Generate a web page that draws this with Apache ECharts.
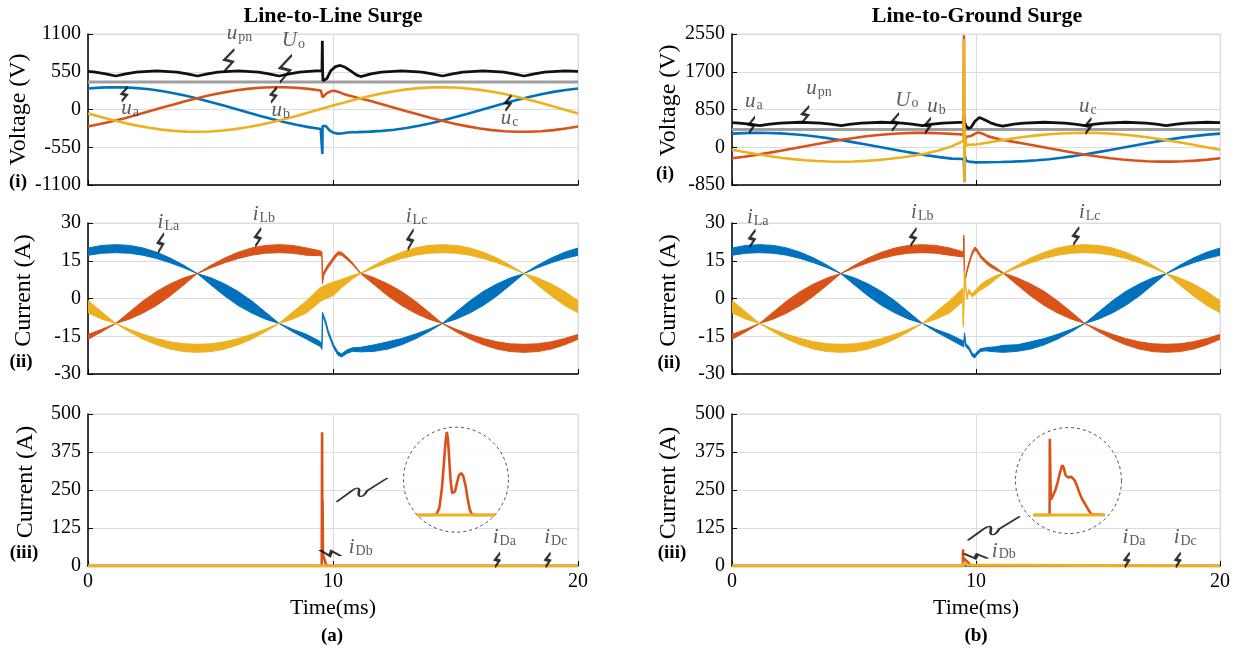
<!DOCTYPE html>
<html>
<head>
<meta charset="utf-8">
<script src="https://cdn.jsdelivr.net/npm/echarts@6/dist/echarts.min.js"></script>
<style>
html,body{margin:0;padding:0;background:#fff}
#chart{width:1244px;height:649px}
</style>
</head>
<body>
<div id="chart"></div>
<script>
// ---------- time bases (ms) ----------
const tHalf = [0,0.5,1,1.5,2,2.5,3,3.5,4,4.5,5,5.5,6,6.5,7,7.5,8,8.5,9,9.5,10,10.5,11,11.5,12,12.5,13,13.5,14,14.5,15,15.5,16,16.5,17,17.5,18,18.5,19,19.5,20];
const tSpan = [0, 20];
const zeroSpan = [0, 0];

// ---------- (a) line-to-line surge: voltages (V) ----------
const tUaL = [0,0.5,1,1.5,2,2.5,3,3.5,4,4.5,5,5.5,6,6.5,7,7.5,8,8.5,9,9.5,9.55,9.565,9.575,9.6,9.7,9.85,10,10.2,10.4,10.6,10.8,11,11.5,12,12.5,13,13.5,14,14.5,15,15.5,16,16.5,17,17.5,18,18.5,19,19.5,20];
const uaL = [306,319,325,322,312,294,269,237,199,157,110,61,10,-41,-91,-138,-183,-223,-257,-285,-288,-650,-240,-215,-240,-300,-335,-352,-345,-336,-332,-330,-323,-312,-294,-269,-237,-199,-157,-110,-61,-10,41,91,138,183,223,257,285,306];
const tUbL = [0,0.5,1,1.5,2,2.5,3,3.5,4,4.5,5,5.5,6,6.5,7,7.5,8,8.5,9,9.5,9.55,9.565,9.575,9.62,9.75,9.9,10.05,10.3,10.5,11,11.5,12,12.5,13,13.5,14,14.5,15,15.5,16,16.5,17,17.5,18,18.5,19,19.5,20];
const ubL = [-248,-212,-171,-126,-78,-27,24,74,123,168,210,246,276,300,316,324,324,316,301,278,274,270,178,198,238,265,272,246,218,171,126,78,27,-24,-74,-123,-168,-210,-246,-276,-300,-316,-324,-324,-316,-301,-278,-248];
const ucL = [-58,-107,-154,-197,-235,-267,-293,-311,-322,-325,-320,-307,-286,-259,-225,-186,-141,-94,-44,7,58,107,154,197,235,267,293,311,322,325,320,307,286,259,225,186,141,94,44,-7,-58];
const tUpnL = [0,0.3,0.72,1.13,1.55,1.97,2.8,3.63,4.05,4.47,4.88,5.3,6.13,6.97,7.38,7.8,8.22,8.63,9.3,9.55,9.565,9.575,9.59,9.65,9.75,9.9,10.1,10.3,10.5,10.75,10.95,11.13,11.55,11.97,12.8,13.63,14.05,14.47,14.88,15.3,16.13,16.97,17.38,17.8,18.22,18.63,19.47,20];
const upnL = [555,544,520,488,520,544,563,544,520,488,520,544,563,544,520,488,520,544,562,566,1000,560,420,400,450,560,625,642,615,555,505,480,520,544,563,544,520,488,520,544,563,544,520,488,520,544,563,555];
const uoL = [400, 400];

// ---------- (b) line-to-ground surge: voltages (V) ----------
const tUaR = [0,0.5,1,1.5,2,2.5,3,3.5,4,4.5,5,5.5,6,6.5,7,7.5,8,8.5,9,9.5,9.51,9.525,9.54,9.6,9.8,10,10.5,11,11.5,12,12.5,13,13.5,14,14.5,15,15.5,16,16.5,17,17.5,18,18.5,19,19.5,20];
const uaR = [306,319,325,322,312,294,269,237,199,157,110,61,10,-41,-91,-138,-183,-223,-257,-265,-300,-790,-180,-310,-330,-340,-338,-332,-324,-312,-294,-269,-237,-199,-157,-110,-61,-10,41,91,138,183,223,257,285,306];
const tUbR = [0,0.5,1,1.5,2,2.5,3,3.5,4,4.5,5,5.5,6,6.5,7,7.5,8,8.5,9,9.3,9.49,9.505,9.515,9.525,9.54,9.6,9.8,9.95,10.1,10.3,10.5,11,11.5,12,12.5,13,13.5,14,14.5,15,15.5,16,16.5,17,17.5,18,18.5,19,19.5,20];
const ubR = [-248,-212,-171,-126,-78,-27,24,74,123,168,210,246,276,300,316,324,324,316,301,292,285,2520,900,-700,120,235,255,300,335,300,245,175,126,78,27,-24,-74,-123,-168,-210,-246,-276,-300,-316,-324,-324,-316,-301,-278,-248];
const tUcR = [0,0.5,1,1.5,2,2.5,3,3.5,4,4.5,5,5.5,6,6.5,7,7.5,8,8.5,9,9.3,9.49,9.51,9.525,9.54,9.6,9.7,9.9,10,10.5,11,11.5,12,12.5,13,13.5,14,14.5,15,15.5,16,16.5,17,17.5,18,18.5,19,19.5,20];
const ucR = [-58,-107,-154,-197,-235,-267,-293,-311,-322,-325,-320,-307,-286,-259,-225,-186,-135,-70,20,95,150,2440,-780,260,40,55,58,62,107,154,197,235,267,293,311,322,325,320,307,286,259,225,186,141,94,44,-7,-58];
const tUpnR = [0,0.3,0.72,1.13,1.55,1.97,2.8,3.63,4.05,4.47,4.88,5.3,6.13,6.97,7.38,7.8,8.22,8.63,9.3,9.49,9.51,9.53,9.6,9.7,9.8,9.95,10.14,10.35,10.6,10.85,11.1,11.55,11.97,12.8,13.63,14.05,14.47,14.88,15.3,16.13,16.97,17.38,17.8,18.22,18.63,19.47,20];
const upnR = [555,544,520,488,520,544,563,544,520,488,520,544,563,544,520,488,520,544,562,565,680,560,470,420,450,580,670,620,550,505,475,520,544,563,544,520,488,520,544,563,544,520,488,520,544,563,555];
const uoR = [400, 400];

// ---------- (a) inductor currents (A): ripple envelope, lower / upper ----------
const tIL = [-0.54,0.02,0.57,1.13,1.69,2.24,2.80,3.35,3.91,4.46,5.02,5.58,6.13,6.69,7.24,7.80,8.35,8.91,9.46,9.50,9.55,9.57,9.62,9.70,9.80,9.90,10.02,10.20,10.35,10.58,10.80,11.13,11.69,12.24,12.80,13.35,13.91,14.46,15.02,15.58,16.13,16.69,17.24,17.80,18.35,18.91,19.46,20.02];
const iLaLoL = [15.9,17.2,18.0,18.2,18.0,17.2,15.9,14.2,12.2,9.9,5.4,1.0,-2.8,-5.8,-8.2,-9.9,-13.2,-16.1,-19.0,-19.3,-20.2,-7.0,-8.0,-10.2,-14.0,-16.5,-19.5,-22.5,-23.2,-21.8,-21.0,-21.2,-21.0,-20.1,-18.4,-16.1,-13.2,-9.9,-8.2,-5.8,-2.8,1.0,5.4,9.9,12.2,14.2,15.9,17.2];
const iLaHiL = [18.4,20.1,21.1,21.4,21.1,20.1,18.4,16.1,13.2,9.9,8.2,5.8,2.8,-1.0,-5.4,-9.9,-12.2,-14.2,-17.0,-17.4,-18.2,-5.4,-6.8,-8.8,-12.6,-15.2,-18.3,-21.2,-22.0,-20.4,-19.6,-19.4,-18.4,-17.2,-15.9,-14.2,-12.2,-9.9,-5.4,-1.0,2.8,5.8,8.2,9.9,13.2,16.1,18.4,20.1];
const iLbLoL = [-18.4,-16.1,-13.2,-9.9,-8.2,-5.8,-2.8,1.0,5.4,9.9,12.2,14.2,15.9,17.2,18.0,18.2,18.0,17.2,17.0,16.9,16.6,5.8,9.0,10.6,12.2,13.4,15.2,17.4,17.2,15.4,13.4,9.9,5.4,1.0,-2.8,-5.8,-8.2,-9.9,-13.2,-16.1,-18.4,-20.1,-21.1,-21.4,-21.1,-20.1,-18.4,-16.1];
const iLbHiL = [-15.9,-14.2,-12.2,-9.9,-5.4,-1.0,2.8,5.8,8.2,9.9,13.2,16.1,18.4,20.1,21.1,21.4,21.1,20.1,19.0,18.9,18.4,7.0,10.5,12.0,13.6,14.8,16.6,18.6,18.4,16.4,14.2,10.1,8.2,5.8,2.8,-1.0,-5.4,-9.9,-12.2,-14.2,-15.9,-17.2,-18.0,-18.2,-18.0,-17.2,-15.9,-14.2];
const iLcLoL = [-2.8,-5.8,-8.2,-9.9,-13.2,-16.1,-18.4,-20.1,-21.1,-21.4,-21.1,-20.1,-18.4,-16.1,-13.2,-9.9,-8.2,-5.8,-1.4,-1.1,-0.8,-0.7,-0.4,-0.1,0.3,0.7,1.2,2.8,4.3,6.1,7.8,9.9,12.2,14.2,15.9,17.2,18.0,18.2,18.0,17.2,15.9,14.2,12.2,9.9,5.4,1.0,-2.8,-5.8];
const iLcHiL = [2.8,-1.0,-5.4,-9.9,-12.2,-14.2,-15.9,-17.2,-18.0,-18.2,-18.0,-17.2,-15.9,-14.2,-12.2,-9.9,-5.4,-1.0,4.2,4.4,4.6,4.7,5.0,5.3,5.8,6.1,6.6,7.1,7.6,8.4,9.2,10.1,13.2,16.1,18.4,20.1,21.1,21.4,21.1,20.1,18.4,16.1,13.2,9.9,8.2,5.8,2.8,-1.0];

// ---------- (b) inductor currents (A) ----------
const tIR = [-0.54,0.02,0.57,1.13,1.69,2.24,2.80,3.35,3.91,4.46,5.02,5.58,6.13,6.69,7.24,7.80,8.35,8.91,9.46,9.48,9.50,9.53,9.58,9.63,9.70,9.85,9.95,10.02,10.20,10.40,10.58,10.80,11.13,11.69,12.24,12.80,13.35,13.91,14.46,15.02,15.58,16.13,16.69,17.24,17.80,18.35,18.91,19.46,20.02];
const iLaLoR = [15.9,17.2,18.0,18.2,18.0,17.2,15.9,14.2,12.2,9.9,5.4,1.0,-2.8,-5.8,-8.2,-9.9,-13.2,-16.1,-19.0,-19.1,-19.2,-15.0,-19.0,-19.6,-20.2,-23.0,-23.6,-22.6,-21.0,-20.8,-21.0,-21.2,-21.4,-21.0,-20.1,-18.4,-16.1,-13.2,-9.9,-8.2,-5.8,-2.8,1.0,5.4,9.9,12.2,14.2,15.9,17.2];
const iLaHiR = [18.4,20.1,21.1,21.4,21.1,20.1,18.4,16.1,13.2,9.9,8.2,5.8,2.8,-1.0,-5.4,-9.9,-12.2,-14.2,-16.8,-17.0,-17.2,-13.6,-17.8,-18.4,-19.0,-21.8,-22.4,-21.4,-19.9,-19.6,-19.4,-19.2,-18.6,-18.4,-17.2,-15.9,-14.2,-12.2,-9.9,-5.4,-1.0,2.8,5.8,8.2,9.9,13.2,16.1,18.4,20.1];
const iLbLoR = [-18.4,-16.1,-13.2,-9.9,-8.2,-5.8,-2.8,1.0,5.4,9.9,12.2,14.2,15.9,17.2,18.0,18.2,18.0,17.2,16.5,16.4,24.0,5.0,8.0,10.4,13.0,17.5,19.2,18.8,16.0,14.0,12.6,11.4,9.9,5.4,1.0,-2.8,-5.8,-8.2,-9.9,-13.2,-16.1,-18.4,-20.1,-21.1,-21.4,-21.1,-20.1,-18.4,-16.1];
const iLbHiR = [-15.9,-14.2,-12.2,-9.9,-5.4,-1.0,2.8,5.8,8.2,9.9,13.2,16.1,18.4,20.1,21.1,21.4,21.1,20.1,18.6,18.4,25.2,6.2,9.2,11.6,14.2,18.8,20.4,20.0,17.2,15.2,13.8,12.4,10.1,8.2,5.8,2.8,-1.0,-5.4,-9.9,-12.2,-14.2,-15.9,-17.2,-18.0,-18.2,-18.0,-17.2,-15.9,-14.2];
const iLcLoR = [-2.8,-5.8,-8.2,-9.9,-13.2,-16.1,-18.4,-20.1,-21.1,-21.4,-21.1,-20.1,-18.4,-16.1,-13.2,-9.9,-8.2,-5.8,-1.2,-11.4,-4.0,9.8,4.0,-0.4,2.4,0.6,1.4,2.0,3.4,4.6,5.8,7.6,9.9,12.2,14.2,15.9,17.2,18.0,18.2,18.0,17.2,15.9,14.2,12.2,9.9,5.4,1.0,-2.8,-5.8];
const iLcHiR = [2.8,-1.0,-5.4,-9.9,-12.2,-14.2,-15.9,-17.2,-18.0,-18.2,-18.0,-17.2,-15.9,-14.2,-12.2,-9.9,-5.4,-1.0,4.2,-10.2,-2.8,11.0,5.2,0.8,3.6,1.8,3.0,3.8,5.6,7.0,7.9,9.0,10.1,13.2,16.1,18.4,20.1,21.1,21.4,21.1,20.1,18.4,16.1,13.2,9.9,8.2,5.8,2.8,-1.0];

// ---------- diode currents (A) ----------
const tDbL = [0,9.54,9.555,9.565,9.575,9.59,9.63,9.68,9.74,20];
const iDbL = [0,0,440,105,215,35,28,14,0,0];
const tDbR = [0,9.46,9.47,9.48,9.5,9.56,9.65,9.75,9.85,20];
const iDbR = [0,0,55,10,25,22,14,5,0,0];
const tDcR = [0,9.48,9.5,9.56,9.65,9.7,20];
const iDcR = [0,0,12,8,3,0,0];

// magnified diode-current pulses
const tZoomL = [9.53,9.546,9.550,9.553,9.5555,9.558,9.5595,9.5606,9.5618,9.563,9.5645,9.566,9.5674,9.569,9.571,9.573,9.5753,9.5775,9.580,9.582,9.584,9.586,9.589,9.61];
const zoomIL = [0,0,4,40,140,300,400,440,400,300,180,115,105,125,170,210,222,205,150,85,30,6,0,0];
const tZoomLBase = [9.53, 9.61];
const tZoomR = [9.44,9.4815,9.482,9.4835,9.4845,9.490,9.496,9.502,9.507,9.513,9.517,9.521,9.525,9.528,9.532,9.536,9.540,9.544,9.550,9.556,9.562,9.568,9.574,9.580,9.586,9.59,9.62];
const zoomIR = [0,0,55,55,11,14,18,24,30,36,34,29,28,27,28,27.5,27,25,21,16,12,9,6,3,0.5,0,0];
const tZoomRBase = [9.44, 9.62];

// ---------- styling ----------
const SERIF = "'Liberation Serif', 'Times New Roman', serif";
const BLUE = '#0072BD', ORANGE = '#D95319', YELLOW = '#EDB120', BLACK = '#111111', GREY = '#9e9e9e';
const GRIDLINE = '#dcdcdc', TXT = '#333333';

const zip = (t, v) => t.map((x, i) => [x, v[i]]);

// panel boxes: left column rows 0..2, right column rows 3..5, insets 6..7
const boxes = [
  {left: 88,  top: 34,  width: 490, height: 151},
  {left: 88,  top: 223, width: 490, height: 151},
  {left: 88,  top: 414, width: 490, height: 152},
  {left: 732, top: 34,  width: 488, height: 151},
  {left: 732, top: 223, width: 488, height: 151},
  {left: 732, top: 414, width: 488, height: 152},
  {left: 417, top: 430, width: 78,  height: 85},
  {left: 1033, top: 436, width: 72, height: 79}
];
// lift: how far the axis title sits above the panel's middle (px)
const yRanges = [
  {min: -1100, max: 1100, interval: 550, name: 'Voltage (V)', gap: 53, lift: 0},
  {min: -30, max: 30, interval: 15, name: 'Current (A)', gap: 52, lift: 8},
  {min: 0, max: 500, interval: 125, name: 'Current (A)', gap: 50, lift: 8},
  {min: -850, max: 2550, interval: 850, name: 'Voltage (V)', gap: 49, lift: 9},
  {min: -30, max: 30, interval: 15, name: 'Current (A)', gap: 51, lift: 8},
  {min: 0, max: 500, interval: 125, name: 'Current (A)', gap: 51, lift: 7}
];

const grid = boxes.map((b, i) => Object.assign({
  show: i < 6, borderColor: GRIDLINE, borderWidth: 1, backgroundColor: 'transparent',
  containLabel: false, outerBoundsMode: 'none'
}, b));

const xAxis = [], yAxis = [];
for (let i = 0; i < 6; i++) {
  const bottomRow = (i === 2 || i === 5);
  xAxis.push({
    gridIndex: i, type: 'value', min: 0, max: 20, interval: 10,
    axisLine: {show: true, onZero: false, lineStyle: {color: '#000', width: 1.5}},
    axisTick: {show: true, inside: true, length: 5, lineStyle: {color: '#000', width: 1}},
    axisLabel: {show: bottomRow, fontFamily: SERIF, fontSize: 20, color: '#000', margin: 6,
      formatter: v => String(v)},
    splitLine: {show: true, lineStyle: {color: GRIDLINE, width: 1}},
    name: bottomRow ? 'Time(ms)' : '', nameLocation: 'middle', nameGap: 31,
    nameTextStyle: {fontFamily: SERIF, fontSize: 22, color: '#000'}
  });
  const r = yRanges[i];
  yAxis.push({
    gridIndex: i, type: 'value', min: r.min, max: r.max, interval: r.interval,
    axisLine: {show: true, onZero: false, lineStyle: {color: '#000', width: 1.5}},
    axisTick: {show: true, inside: true, length: 5, lineStyle: {color: '#000', width: 1}},
    axisLabel: {fontFamily: SERIF, fontSize: 20, color: '#000', margin: 7,
      formatter: v => String(v)},
    splitLine: {show: true, lineStyle: {color: GRIDLINE, width: 1}},
    name: r.name, nameLocation: 'middle', nameGap: r.gap,
    nameTextStyle: {fontFamily: SERIF, fontSize: 24, color: '#000', padding: [0, 0, 0, 2 * r.lift]}
  });
}
// magnified views
xAxis.push({gridIndex: 6, type: 'value', min: 9.53, max: 9.61, show: false});
yAxis.push({gridIndex: 6, type: 'value', min: 0, max: 450, show: false});
xAxis.push({gridIndex: 7, type: 'value', min: 9.44, max: 9.62, show: false});
yAxis.push({gridIndex: 7, type: 'value', min: 0, max: 57, show: false});

const series = [];
function line(g, t, v, color, width, z) {
  series.push({
    type: 'line', xAxisIndex: g, yAxisIndex: g, data: zip(t, v),
    showSymbol: false, symbol: 'none', smooth: false, clip: g < 6,
    lineStyle: {color: color, width: width}, itemStyle: {color: color},
    z: z || 2, silent: true, animation: false
  });
}
// switching-ripple envelope drawn as one filled polygon between lower and upper traces
function band(g, t, lo, hi, color) {
  series.push({
    type: 'custom', coordinateSystem: 'cartesian2d', xAxisIndex: g, yAxisIndex: g,
    data: t.map((x, i) => [x, lo[i], hi[i]]),
    encode: {x: 0, y: [1, 2]},
    clip: true, silent: true, animation: false, z: 2,
    renderItem: function (params, api) {
      if (params.dataIndex !== 0) return null;
      const pts = [];
      for (let i = 0; i < t.length; i++) pts.push(api.coord([t[i], hi[i]]));
      for (let i = t.length - 1; i >= 0; i--) pts.push(api.coord([t[i], lo[i]]));
      const cs = params.coordSys;
      return {
        type: 'polygon', shape: {points: pts},
        style: {fill: color, stroke: color, lineWidth: 1, lineJoin: 'round'},
        clipPath: {type: 'rect', shape: {x: cs.x, y: cs.y - 2, width: cs.width, height: cs.height + 4}}
      };
    }
  });
}

// (a) voltages
line(0, tSpan, uoL, GREY, 3);
line(0, tUpnL, upnL, BLACK, 2.8);
line(0, tUaL, uaL, BLUE, 2.6);
line(0, tUbL, ubL, ORANGE, 2.6);
line(0, tHalf, ucL, YELLOW, 2.6);
// (a) currents
band(1, tIL, iLaLoL, iLaHiL, BLUE);
band(1, tIL, iLbLoL, iLbHiL, ORANGE);
band(1, tIL, iLcLoL, iLcHiL, YELLOW);
// (a) diode currents
line(2, tSpan, zeroSpan, BLUE, 2.6);
line(2, tDbL, iDbL, ORANGE, 2.6);
line(2, tSpan, zeroSpan, YELLOW, 3);
// (b) voltages
line(3, tSpan, uoR, GREY, 3);
line(3, tUpnR, upnR, BLACK, 2.8);
line(3, tUaR, uaR, BLUE, 2.6);
line(3, tUbR, ubR, ORANGE, 2.6);
line(3, tUcR, ucR, YELLOW, 2.6);
// (b) currents
band(4, tIR, iLaLoR, iLaHiR, BLUE);
band(4, tIR, iLbLoR, iLbHiR, ORANGE);
band(4, tIR, iLcLoR, iLcHiR, YELLOW);
// (b) diode currents
line(5, tSpan, zeroSpan, BLUE, 2.6);
line(5, tDbR, iDbR, ORANGE, 2.6);
line(5, tDcR, iDcR, YELLOW, 3);
// magnified pulses
line(6, tZoomL, zoomIL, ORANGE, 2.6, 5);
line(6, tZoomLBase, zeroSpan, YELLOW, 3, 5);
line(7, tZoomR, zoomIR, ORANGE, 2.6, 5);
line(7, tZoomRBase, zeroSpan, YELLOW, 3, 5);

// ---------- annotations ----------
const ZIG = 'path://M2,30 L7,17 L2,14 L8,0';
const BREAK = 'path://M0,45 L30,24 C38,18 47,15 44,27 C41,38 53,37 60,24 L100,0';
// [panel, t, value, width, height, rotation]
const zigs = [
  [0, 5.77, 715, 10, 22, 0], [0, 8.08, 594, 12, 27, 0], [0, 1.50, 223, 6, 14, 0],
  [0, 7.59, 212, 6, 15, 0], [0, 17.16, 95, 6, 15, 0],
  [3, 0.82, 503, 6, 16, 0], [3, 3.02, 740, 7, 16, 0], [3, 6.70, 571, 7, 17, 0],
  [3, 8.03, 485, 6, 15, 0], [3, 14.61, 478, 6, 15, 0],
  [1, 2.98, 22.0, 6, 19, 0], [1, 6.95, 24.3, 6, 18, 0], [1, 13.17, 23.4, 6, 20, 0],
  [4, 0.84, 23.8, 6, 17, 0], [4, 7.44, 24.4, 6, 17, 0], [4, 14.11, 24.8, 6, 17, 0],
  [2, 9.89, 43, 6, 21, 90], [2, 16.72, 20, 5, 14, 0], [2, 18.78, 20, 5, 14, 0],
  [5, 9.99, 33, 5, 24, 90], [5, 16.20, 20, 5, 14, 0], [5, 18.29, 20, 5, 14, 0]
];
// [panel, t, value, symbol, subscript]
const tags = [
  [0, 5.64, 1109, 'u', 'pn'], [0, 7.89, 1007, 'U', 'o'], [0, 1.34, 15, 'u', 'a'],
  [0, 7.47, -15, 'u', 'b'], [0, 16.83, -136, 'u', 'c'],
  [3, 0.51, 1022, 'u', 'a'], [3, 3.02, 1324, 'u', 'pn'], [3, 6.67, 1060, 'U', 'o'],
  [3, 7.98, 909, 'u', 'b'], [3, 14.20, 909, 'u', 'c'],
  [1, 2.82, 30.2, 'i', 'La'], [1, 6.70, 33.4, 'i', 'Lb'], [1, 12.95, 32.6, 'i', 'Lc'],
  [4, 0.59, 32.0, 'i', 'La'], [4, 7.32, 34.0, 'i', 'Lb'], [4, 14.20, 34.0, 'i', 'Lc'],
  [2, 10.62, 60, 'i', 'Db'], [2, 16.50, 93, 'i', 'Da'], [2, 18.60, 93, 'i', 'Dc'],
  [5, 10.63, 49, 'i', 'Db'], [5, 15.98, 93, 'i', 'Da'], [5, 18.08, 93, 'i', 'Dc']
];
const breaks = [[2, 11.18, 250, 51, 24], [5, 10.73, 124, 52, 24]];
const loupes = [[2, 15.02, 284, 105], [5, 13.79, 281, 106]];

const rich = {
  m: {fontFamily: SERIF, fontStyle: 'italic', fontSize: 21, color: TXT, lineHeight: 21, verticalAlign: 'top', padding: [0, 1, 4, 0]},
  s: {fontFamily: SERIF, fontSize: 14, color: TXT, lineHeight: 14, verticalAlign: 'bottom'}
};

for (let g = 0; g < 6; g++) {
  const lp = loupes.filter(d => d[0] === g);
  if (lp.length) series.push({
    type: 'scatter', xAxisIndex: g, yAxisIndex: g, clip: false, silent: true, animation: false, z: 3,
    symbol: 'circle',
    data: lp.map(d => ({value: [d[1], d[2]], symbolSize: d[3]})),
    itemStyle: {color: '#ffffff', borderColor: '#222', borderWidth: 1, borderType: [3, 3]}
  });
  const bk = breaks.filter(d => d[0] === g);
  if (bk.length) series.push({
    type: 'scatter', xAxisIndex: g, yAxisIndex: g, clip: false, silent: true, animation: false, z: 6,
    symbol: BREAK, symbolKeepAspect: false,
    data: bk.map(d => ({value: [d[1], d[2]], symbolSize: [d[3], d[4]]})),
    itemStyle: {color: 'rgba(0,0,0,0)', borderColor: '#000', borderWidth: 1.8}
  });
  series.push({
    type: 'scatter', xAxisIndex: g, yAxisIndex: g, clip: false, silent: true, animation: false, z: 6,
    symbol: ZIG, symbolKeepAspect: false,
    data: zigs.filter(d => d[0] === g).map(d => ({value: [d[1], d[2]], symbolSize: [d[3], d[4]], symbolRotate: d[5]})),
    itemStyle: {color: 'rgba(0,0,0,0)', borderColor: '#000', borderWidth: 2}
  });
  series.push({
    type: 'scatter', xAxisIndex: g, yAxisIndex: g, clip: false, silent: true, animation: false, z: 6,
    symbol: 'circle', symbolSize: 1, itemStyle: {color: 'rgba(0,0,0,0)'},
    data: tags.filter(d => d[0] === g).map(d => ({value: [d[1], d[2]], main: d[3], sub: d[4]})),
    label: {show: true, position: 'right', distance: 0, rich: rich,
      formatter: p => '{m|' + p.data.main + '}{s|' + p.data.sub + '}'}
  });
}

function txt(x, y, s, font) {
  return {type: 'text', x: x, y: y, silent: true, z: 10,
    style: {text: s, font: font, fill: '#000', textAlign: 'center', textVerticalAlign: 'middle', align: 'center', verticalAlign: 'middle'}};
}
const BOLD20 = 'bold 22px ' + SERIF;
const BOLDS = 'bold 19px ' + SERIF;
const graphic = [
  txt(333, 16, 'Line-to-Line Surge', BOLD20),
  txt(977, 16, 'Line-to-Ground Surge', BOLD20),
  txt(18, 182, '(i)', BOLDS), txt(21, 362, '(ii)', BOLDS), txt(24, 553, '(iii)', BOLDS),
  txt(665, 174, '(i)', BOLDS), txt(669, 363, '(ii)', BOLDS), txt(672, 553, '(iii)', BOLDS),
  txt(332, 636, '(a)', BOLDS), txt(976, 636, '(b)', BOLDS)
];

const chart = echarts.init(document.getElementById('chart'), null, {renderer: 'canvas', width: 1244, height: 649});
chart.setOption({
  animation: false,
  backgroundColor: '#ffffff',
  grid: grid,
  xAxis: xAxis,
  yAxis: yAxis,
  series: series,
  graphic: graphic
});
</script>
</body>
</html>
